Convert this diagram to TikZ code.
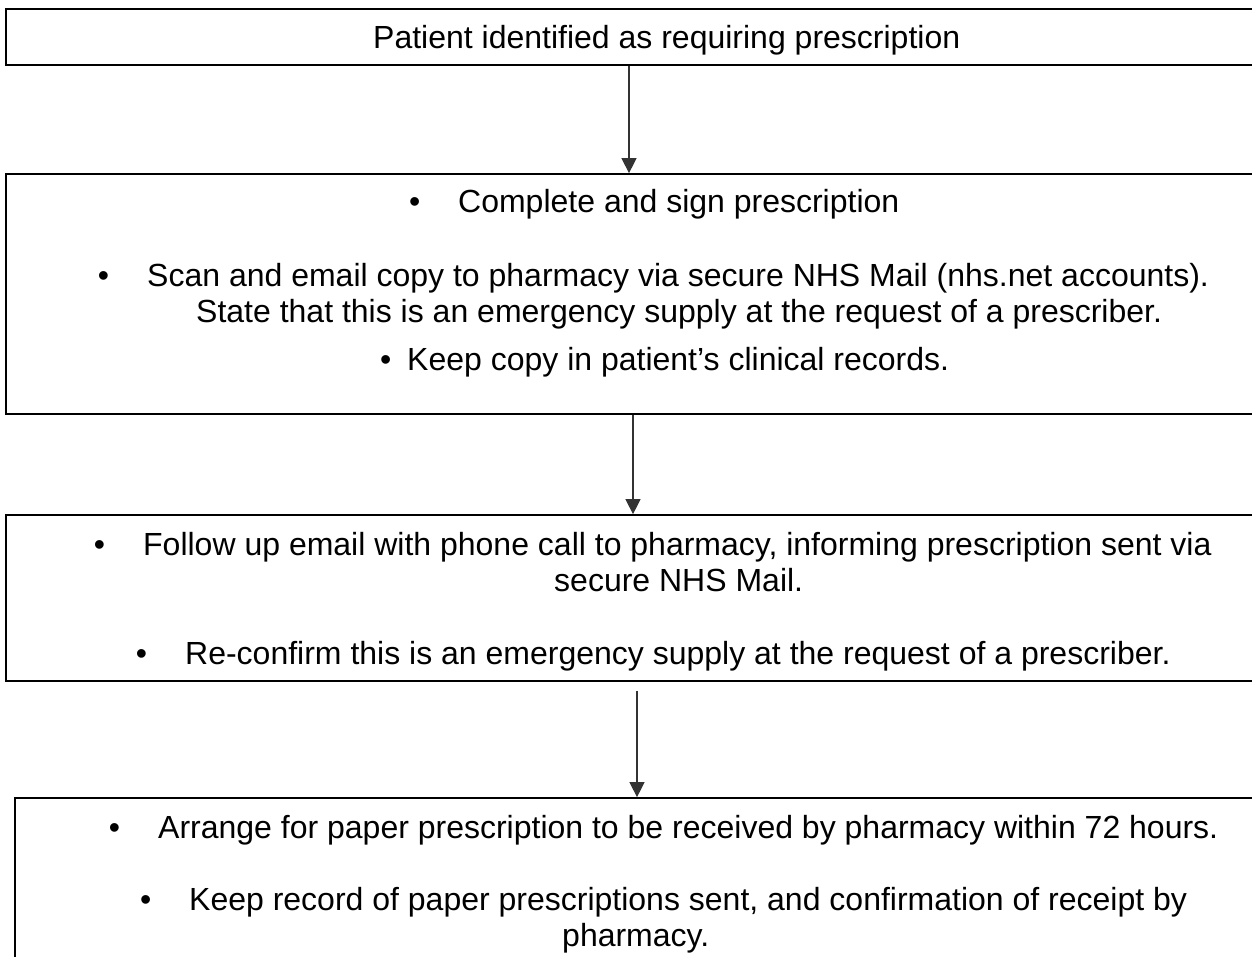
\documentclass[tikz,border=0pt]{standalone}
\usepackage{fontspec}
\setmainfont{Liberation Sans}
\usetikzlibrary{arrows.meta}
\tikzstyle{block} = [rectangle, draw=black, line width=1.7pt, inner sep=0pt]
\tikzstyle{txt} = [anchor=base west, inner sep=0pt, font=\fontsize{32}{36}\selectfont]
\tikzstyle{bulletline} = [txt, execute at begin node={\llap{\textbullet\hspace{38pt}}}]
\tikzstyle{shortbullet} = [txt, execute at begin node={\llap{\textbullet\hspace{16pt}}}]
\tikzstyle{arrow} = [line width=1.1pt, draw=black!80, -{Triangle[length=15pt,width=15pt]}]

\begin{document}
\begin{tikzpicture}[x=1pt, y=-1pt]
    \clip (0,0) rectangle (1252,957);
    % boxes
    \node (box1) [block, minimum width=1256pt, minimum height=56pt] at (634,37) {};
    \node (box2) [block, minimum width=1256pt, minimum height=240pt] at (634,294) {};
    \node (box3) [block, minimum width=1256pt, minimum height=166pt] at (634,598) {};
    \node (box4) [block, minimum width=1247pt, minimum height=202pt] at (638.5,899) {};
    % texts
    \node (patient) [txt] at (373,49) {Patient identified as requiring prescription};
    \node (sign) [bulletline] at (458,213) {Complete and sign prescription};
    \node (scan) [bulletline] at (147,287) {Scan and email copy to pharmacy via secure NHS Mail (nhs.net accounts).};
    \node (state) [txt] at (196,323) {State that this is an emergency supply at the request of a prescriber.};
    \node (copy) [shortbullet] at (407,370) {Keep copy in patient’s clinical records.};
    \node (phone) [bulletline] at (143,555) {Follow up email with phone call to pharmacy, informing prescription sent via};
    \node (secure) [txt] at (554,591) {secure NHS Mail.};
    \node (confirm) [bulletline] at (185,664) {Re-confirm this is an emergency supply at the request of a prescriber.};
    \node (paper) [bulletline] at (158,838) {Arrange for paper prescription to be received by pharmacy within 72 hours.};
    \node (record) [bulletline] at (189,910) {Keep record of paper prescriptions sent, and confirmation of receipt by};
    \node (receipt) [txt] at (562,946) {pharmacy.};
    % arrows
    \draw [arrow] ([xshift=-5pt]box1.south) -- ([xshift=-5pt]box2.north);
    \draw [arrow] ([xshift=-1pt]box2.south) -- ([xshift=-1pt]box3.north);
    \draw [arrow, shorten <=9pt] ([xshift=3pt]box3.south) -- ([xshift=-1.5pt]box4.north);
\end{tikzpicture}
\end{document}
